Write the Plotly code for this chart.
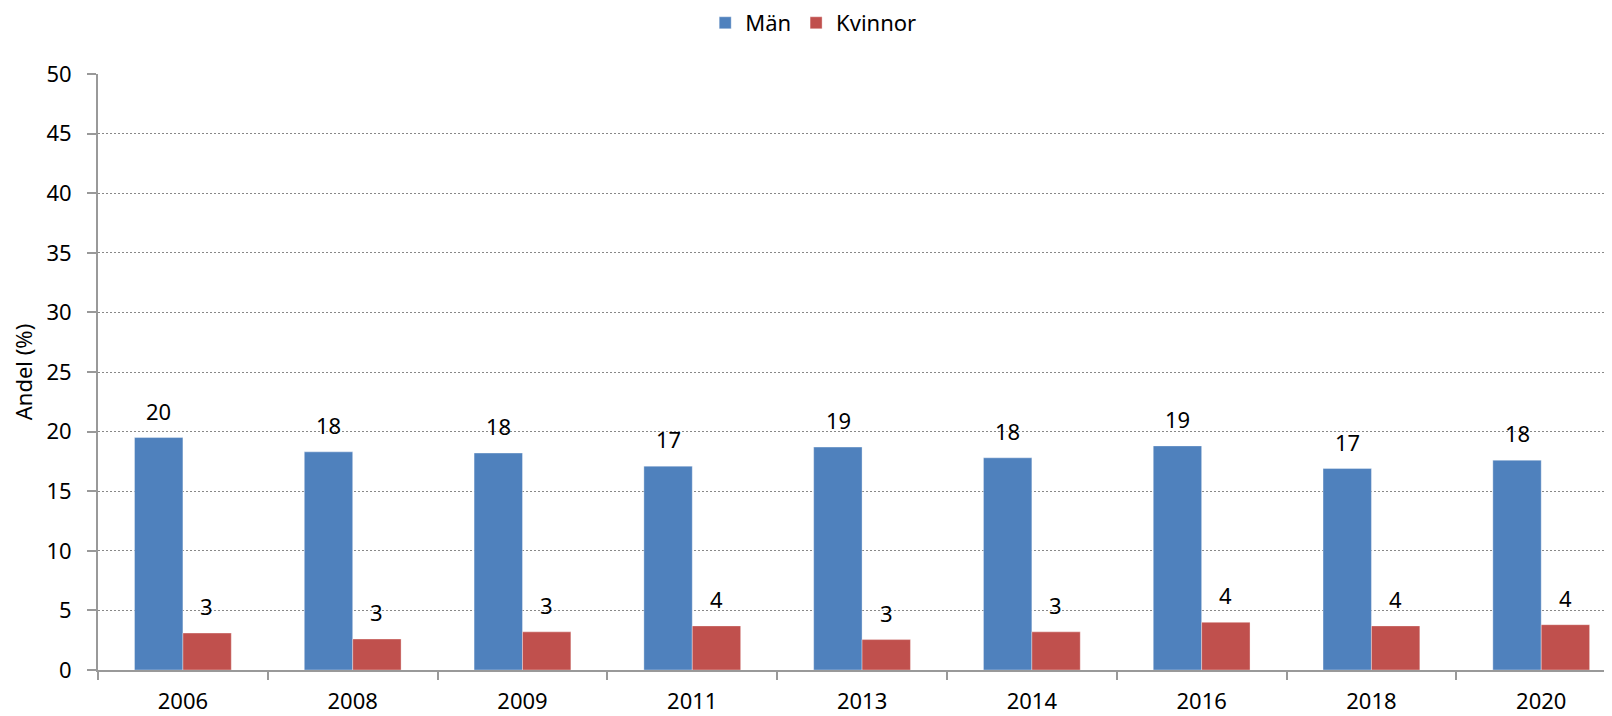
import plotly.graph_objects as go

years = ["2006", "2008", "2009", "2011", "2013", "2014", "2016", "2018", "2020"]
man = [19.5, 18.3, 18.2, 17.1, 18.7, 17.8, 18.8, 16.9, 17.6]
kvinnor = [3.1, 2.6, 3.2, 3.7, 2.55, 3.2, 4.0, 3.7, 3.8]
series_names = ["Män", "Kvinnor"]
colors = ["#4F81BD", "#C0504D"]
y_title = "Andel (%)"

FONT = "Noto Sans, DejaVu Sans, sans-serif"

fig = go.Figure()
for name, vals, col in zip(series_names, [man, kvinnor], colors):
    fig.add_trace(go.Bar(
        x=years, y=vals, name=name,
        marker=dict(color=col, line=dict(color="rgba(255,255,255,0.35)", width=1)),
        hoverinfo="x+y",
    ))

# value labels above bars (rounded half up)
for shift, vals in zip([-24, 24], [man, kvinnor]):
    for i, v in enumerate(vals):
        fig.add_annotation(
            x=i, y=v, xref="x", yref="y", text=str(int(v + 0.5)),
            showarrow=False, xshift=shift, yshift=27, yanchor="middle",
            font=dict(family=FONT, size=22, color="#000"),
        )

fig.update_layout(
    width=1612, height=716,
    margin=dict(l=90, r=0, t=66, b=54, autoexpand=False),
    paper_bgcolor="white", plot_bgcolor="white",
    font=dict(family=FONT, size=22, color="#000"),
    barmode="group", bargap=0.43, bargroupgap=0,
    showlegend=True,
    legend=dict(
        orientation="h", xref="container", yref="container",
        x=0.4995, xanchor="center", y=1 - 15 / 716, yanchor="middle",
        font=dict(family=FONT, size=22, color="#000"),
        bgcolor="rgba(0,0,0,0)",
    ),
)

fig.update_xaxes(
    type="category", range=[-0.5, 8.464],
    showline=True, linecolor="#999", linewidth=2,
    ticks="outside", tickson="boundaries", ticklen=8, tickcolor="#999", tickwidth=2,
    showgrid=False, zeroline=False,
    tickfont=dict(family=FONT, size=22, color="#000"),
    ticklabelstandoff=11,
)
fig.update_yaxes(
    range=[0, 50], dtick=5, tick0=0,
    showline=True, linecolor="#999", linewidth=2,
    ticks="outside", ticklen=9, tickcolor="#999", tickwidth=2,
    showgrid=True, gridcolor="#888", griddash="2px,2px", gridwidth=1,
    zeroline=False,
    tickfont=dict(family=FONT, size=22, color="#000"),
    ticklabelstandoff=11,
    title=dict(text=y_title, font=dict(family=FONT, size=22, color="#000"), standoff=17),
)

fig.write_html("out.html")
